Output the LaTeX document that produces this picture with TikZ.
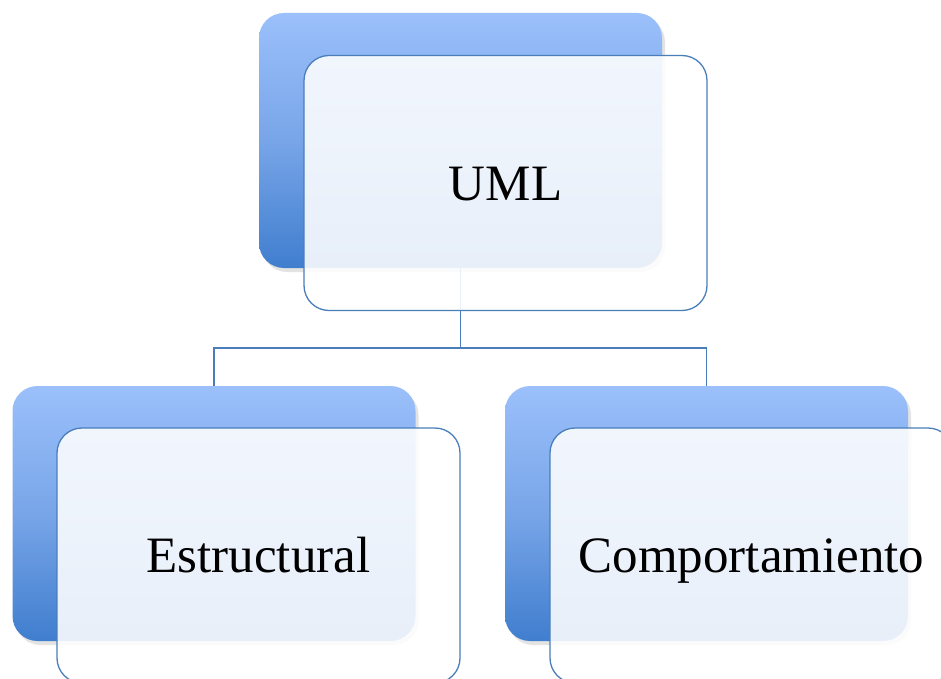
\documentclass[tikz,border=0pt]{standalone}
\usepackage{fontspec}
\setmainfont{Liberation Serif}
\usetikzlibrary{shadows}
\definecolor{backtop}{RGB}{155,192,251}
\definecolor{backmid}{RGB}{120,165,232}
\definecolor{backbot}{RGB}{64,126,206}
\definecolor{edgeblue}{RGB}{74,126,187}
\tikzset{
  backbox/.style={rectangle, rounded corners=25pt, minimum width=403pt, minimum height=255pt,
    inner sep=0pt, top color=backtop, bottom color=backbot, middle color=backmid,
    drop shadow={shadow xshift=3pt, shadow yshift=-4pt, opacity=0.22}},
  frontbox/.style={rectangle, rounded corners=25pt, minimum width=403pt, minimum height=255pt,
    inner sep=0pt, draw=edgeblue, line width=1.3pt, fill=white, fill opacity=0.88, text opacity=1,
    font=\fontsize{51}{60}\selectfont, text height=34pt, text depth=0pt},
  link/.style={draw=edgeblue, line width=1.3pt}
}
\begin{document}
\begin{tikzpicture}[x=1pt,y=-1pt]
\clip (0,0) rectangle (941,679);
\fill[white] (0,0) rectangle (941,679);
% back boxes
\node[backbox] (uB) at (460.5,140.5) {};
\node[backbox] (eB) at (214,513.5) {};
\node[backbox] (cB) at (706.5,513.5) {};
% connectors
\coordinate (j) at (460.5,348);
\draw[link] (uB.south) -- (j) -| (eB.north);
\draw[link] (j) -| (cB.north);
% front boxes
\node[frontbox] (uF) at (505.5,183) {UML};
\node[frontbox] (eF) at (258.5,555.5) {Estructural};
\node[frontbox] (cF) at (751.5,555.5) {Comportamiento};
\end{tikzpicture}
\end{document}
